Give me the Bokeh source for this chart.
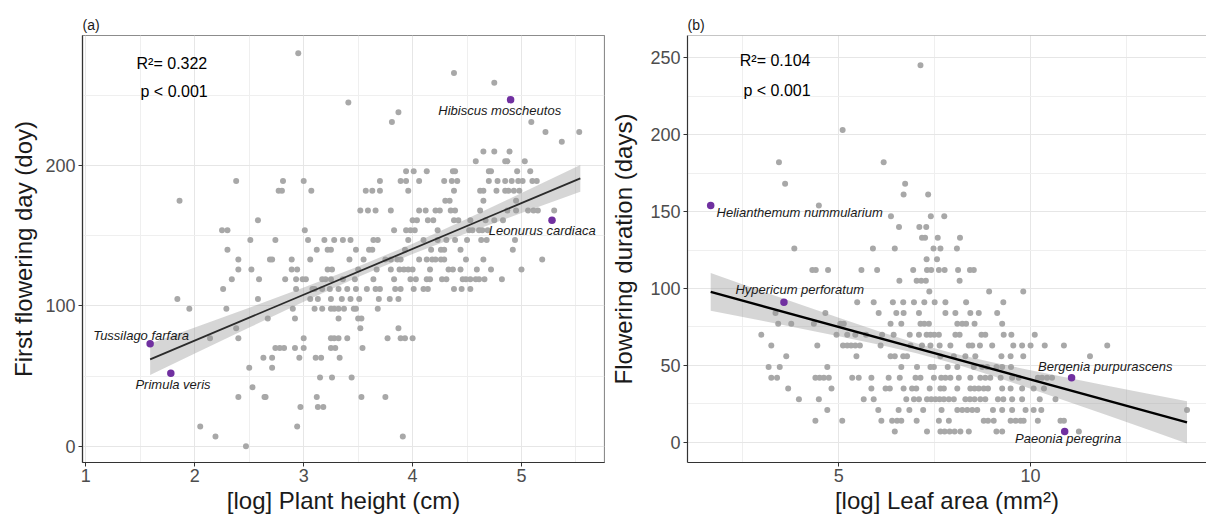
from bokeh.plotting import figure
from bokeh.layouts import row
from bokeh.models import Label, Span, FixedTicker, Range1d
from bokeh.embed import file_html
from bokeh.resources import INLINE
import numpy as np

# ---------------- Panel (a): first flowering day vs log plant height ----------------
# rows of points: (first flowering day, [log plant height values])
a_rows = [
    (280, [2.95]),
    (266, [4.38]),
    (259, [4.75]),
    (245, [3.41]),
    (238, [3.87]),
    (231, [3.81, 5.09]),
    (224, [5.22, 5.53]),
    (217, [5.37]),
    (210, [4.65, 4.75, 4.89]),
    (203, [4.58, 4.85, 4.87, 5.03]),
    (196, [3.94, 4.01, 4.13, 4.37, 4.39, 4.70, 4.72, 4.96, 5.08]),
    (189, [2.38, 2.81, 3.00, 3.70, 3.89, 3.94, 4.06, 4.29, 4.36, 4.41, 4.70, 4.78, 4.85, 4.91, 4.97, 5.01, 5.10, 5.14]),
    (182, [2.77, 2.80, 3.07, 3.57, 3.63, 3.70, 3.96, 4.38, 4.62, 4.65, 4.77, 4.85, 4.88, 4.93, 4.98]),
    (175, [1.86, 4.30, 4.34, 4.65, 4.95]),
    (168, [3.52, 3.59, 3.66, 3.80, 4.06, 4.12, 4.21, 4.25, 4.35, 4.39, 4.62, 4.87, 4.95, 5.06, 5.11, 5.15, 5.30]),
    (161, [2.58, 4.00, 4.04, 4.14, 4.19, 4.38, 4.42, 4.53, 4.67, 4.75, 4.83]),
    (154, [2.25, 2.30, 3.01, 3.83, 3.94, 3.98, 4.02, 4.23, 4.52, 4.55, 4.61, 4.64, 4.69]),
    (147, [2.51, 2.74, 3.04, 3.19, 3.28, 3.36, 3.43, 3.64, 3.68, 3.96, 4.10, 4.23, 4.31, 4.39, 4.50, 4.63, 4.68, 4.94]),
    (140, [2.30, 3.12, 3.22, 3.25, 3.48, 3.60, 3.63, 3.93, 4.17, 4.26, 4.29, 4.44, 4.92]),
    (133, [2.40, 2.69, 2.71, 2.89, 3.06, 3.42, 3.55, 3.75, 3.80, 3.86, 3.89, 4.06, 4.13, 4.18, 4.21, 4.26, 4.29, 4.49, 4.65, 5.19]),
    (126, [2.40, 2.52, 2.89, 2.94, 3.22, 3.26, 3.50, 3.67, 3.80, 3.88, 3.92, 3.96, 4.00, 4.16, 4.33, 4.37, 4.44, 4.59, 4.72, 5.00]),
    (119, [2.34, 2.59, 2.83, 2.93, 2.99, 3.02, 3.17, 3.20, 3.25, 3.36, 3.47, 3.64, 3.83, 3.98, 4.03, 4.13, 4.16, 4.27, 4.31, 4.46, 4.49, 4.53, 4.58, 4.61, 4.66, 4.82]),
    (112, [2.26, 2.93, 3.08, 3.10, 3.17, 3.24, 3.32, 3.40, 3.48, 3.58, 3.66, 3.70, 3.84, 3.89, 4.01, 4.10, 4.14, 4.38, 4.45, 4.53]),
    (105, [1.84, 2.58, 3.06, 3.13, 3.25, 3.35, 3.43, 3.51, 3.69, 3.79, 3.87]),
    (98, [1.95, 2.29, 2.90, 3.10, 3.17, 3.25, 3.28, 3.32, 3.37, 3.46, 3.48, 3.68]),
    (91, [2.67, 2.92, 3.32, 3.50, 3.53]),
    (84, [2.38, 3.52, 3.87]),
    (77, [2.14, 2.40, 3.00, 3.25, 3.28, 3.32, 3.40, 3.77, 3.89, 3.93, 4.00]),
    (70, [2.74, 2.78, 2.82, 2.92, 3.00, 3.25, 3.29, 3.54]),
    (63, [2.63, 2.71, 2.96, 3.11, 3.16, 3.33]),
    (56, [2.50, 2.71]),
    (49, [3.15, 3.26, 3.44]),
    (42, [2.53]),
    (35, [2.40, 2.64, 2.65, 3.12, 3.53, 3.75]),
    (28, [2.97, 3.13, 3.18]),
    (14, [2.05, 2.94]),
    (7, [2.19, 3.91]),
    (0, [2.47]),
]
a_x = [x for d, xs in a_rows for x in xs]
a_y = [d for d, xs in a_rows for x in xs]

a_hl_names = ["Hibiscus moscheutos", "Leonurus cardiaca", "Tussilago farfara", "Primula veris"]
a_hl_x = [4.90, 5.28, 1.59, 1.78]
a_hl_y = [247, 161, 73, 52]

a_fit_x = [1.59, 5.54]
a_intercept, a_slope = 10.0, 32.66
a_band_x = [1.59, 2.0, 2.5, 3.0, 3.5, 4.0, 4.5, 5.0, 5.54]
a_band_half = [11.2, 9.3, 7.1, 5.1, 3.7, 3.7, 5.1, 7.1, 9.5]
a_stats = ["R\u00b2= 0.322", "p < 0.001"]

# ---------------- Panel (b): flowering duration vs log leaf area ----------------
b_rows = [
    (245, [7.13]),
    (203, [5.10]),
    (182, [3.44, 6.17]),
    (168, [3.60, 6.73]),
    (161, [6.69, 7.33]),
    (154, [4.48]),
    (147, [6.36, 7.40, 7.75]),
    (140, [6.57, 7.10, 7.28]),
    (133, [7.17, 7.25, 7.58, 8.16]),
    (126, [3.84, 5.89, 6.46, 7.47, 7.65, 8.08]),
    (119, [7.29, 7.56]),
    (112, [4.31, 4.40, 4.72, 5.59, 6.00, 6.94, 7.30, 7.41, 7.61, 7.76, 8.11, 8.42, 8.52]),
    (105, [6.58, 7.03, 7.15, 7.27, 8.15]),
    (98, [7.36, 8.92, 9.81]),
    (91, [5.48, 5.91, 6.41, 6.68, 6.96, 7.23, 7.50, 7.78, 8.32, 9.29]),
    (84, [3.35, 4.65, 6.04, 6.50, 6.69, 7.09, 7.78, 8.04, 8.43, 8.65, 9.13]),
    (77, [3.42, 3.76, 4.35, 5.04, 5.13, 6.35, 6.63, 7.13, 7.23, 7.35, 8.09, 8.22, 8.32, 8.54, 9.26]),
    (70, [2.98, 4.94, 5.22, 5.43, 5.71, 6.13, 6.43, 6.85, 7.09, 7.29, 7.39, 7.49, 7.61, 8.04, 8.15, 8.72, 8.82, 9.30, 9.50, 10.11]),
    (63, [3.24, 4.44, 5.11, 5.22, 5.32, 5.43, 5.55, 6.09, 6.87, 7.17, 7.39, 7.63, 7.91, 8.39, 8.48, 8.68, 9.00, 9.55, 9.78, 10.00, 10.37, 10.87, 12.00]),
    (56, [3.63, 5.46, 6.35, 6.46, 6.68, 6.78, 7.65, 8.00, 8.30, 8.56, 9.24, 9.48, 9.81, 11.55]),
    (49, [3.17, 3.46, 4.70, 6.63, 7.04, 7.39, 7.48, 7.84, 8.09, 8.52, 8.74, 8.87, 9.11, 9.26, 9.49]),
    (42, [3.24, 3.39, 4.39, 4.50, 4.61, 4.74, 5.35, 5.52, 5.85, 6.30, 6.59, 7.00, 7.13, 7.48, 7.67, 7.78, 7.91, 8.13, 8.43, 8.69, 8.82, 8.95, 9.22, 9.52, 9.69, 10.19, 10.30, 10.43, 10.56]),
    (35, [3.68, 4.81, 5.85, 6.22, 6.33, 6.69, 6.91, 7.02, 7.37, 7.65, 7.74, 8.09, 8.43, 8.54, 8.65, 8.78, 8.89, 9.26, 9.48, 9.78, 10.08, 10.35]),
    (28, [3.96, 4.48, 5.65, 5.91, 6.76, 6.96, 7.09, 7.30, 7.41, 7.52, 7.63, 7.74, 7.87, 8.00, 8.30, 8.42, 8.54, 8.69, 8.82, 9.15, 9.29, 9.52, 9.78, 10.24, 10.65]),
    (21, [4.70, 6.03, 6.56, 6.84, 7.20, 7.68, 8.09, 8.22, 8.35, 8.48, 8.61, 9.02, 9.26, 9.52, 9.87, 10.08, 10.28, 14.08]),
    (14, [4.39, 5.09, 6.11, 6.39, 6.52, 6.63, 7.03, 7.61, 7.87, 8.78, 8.89, 9.04, 9.48, 9.61, 9.74, 9.82, 10.19, 10.78, 10.87]),
    (7, [6.46, 7.30, 7.65, 7.76, 7.89, 8.02, 8.17, 8.39, 9.11, 9.26, 11.26]),
]
b_x = [x for d, xs in b_rows for x in xs]
b_y = [d for d, xs in b_rows for x in xs]

b_hl_names = ["Helianthemum nummularium", "Hypericum perforatum", "Bergenia purpurascens", "Paeonia peregrina"]
b_hl_x = [1.66, 3.57, 11.07, 10.89]
b_hl_y = [154, 91, 42, 7]

b_fit_x = [1.66, 14.08]
b_intercept, b_slope = 109.1, -6.825
b_band_x = [1.66, 3, 4, 5, 6, 7, 8, 9, 10, 11, 12, 13, 14.08]
b_band_half = [12.3, 9.6, 7.8, 6.0, 4.4, 3.3, 3.3, 4.4, 6.0, 7.8, 9.6, 11.6, 13.7]
b_stats = ["R\u00b2= 0.104", "p < 0.001"]

FONT = "Liberation Sans"
GRAY_PT = "#a8a8a8"
PURPLE = "#7030a0"


def base_fig(width, xr, yr, xt, xmt, yt, ymt, xlab, ylab, title, ylab_standoff, min_left, min_right):
    p = figure(width=width, height=516, x_range=Range1d(*xr), y_range=Range1d(*yr),
               output_backend="svg", toolbar_location=None, tools="",
               min_border_left=min_left, min_border_right=min_right,
               min_border_top=35, min_border_bottom=53)
    p.background_fill_color = "white"
    p.border_fill_color = "white"
    p.title.text = title
    p.title.align = "left"
    p.title.text_font = FONT
    p.title.text_font_size = "14px"
    p.title.text_font_style = "normal"
    p.title.text_color = "#1a1a1a"
    p.title.standoff = 6
    p.xaxis.ticker = FixedTicker(ticks=xt, minor_ticks=xmt)
    p.yaxis.ticker = FixedTicker(ticks=yt, minor_ticks=ymt)
    for ax in (p.xaxis, p.yaxis):
        ax.axis_line_color = "#333333"
        ax.axis_line_width = 1.2
        ax.major_tick_line_color = "#333333"
        ax.major_tick_in = 0
        ax.major_tick_out = 4
        ax.minor_tick_line_color = None
        ax.major_label_text_font = FONT
        ax.major_label_text_font_size = "18px"
        ax.major_label_text_color = "#4d4d4d"
        ax.axis_label_text_font = FONT
        ax.axis_label_text_font_size = "24px"
        ax.axis_label_text_font_style = "normal"
        ax.axis_label_text_color = "#1a1a1a"
    p.xaxis.axis_label = xlab
    p.yaxis.axis_label = ylab
    p.xaxis.major_label_standoff = 2
    p.xaxis.axis_label_standoff = 2
    p.yaxis.major_label_standoff = 3
    p.yaxis.axis_label_standoff = ylab_standoff
    for g in (p.xgrid, p.ygrid):
        g.grid_line_color = "#e6e6e6"
        g.grid_line_width = 1
        g.minor_grid_line_color = "#efefef"
        g.minor_grid_line_width = 1
    return p


def add_content(p, xs, ys, fit_x, b0, b1, band_x, band_half, hl_x, hl_y, line_color, line_width):
    p.scatter(xs, ys, size=6, fill_color=GRAY_PT, line_color=None)
    bx = np.array(band_x)
    center = b0 + b1 * bx
    hw = np.array(band_half)
    p.varea(x=bx, y1=center - hw, y2=center + hw, fill_color="#999999", fill_alpha=0.4)
    fx = np.array(fit_x)
    p.line(fx, b0 + b1 * fx, line_color=line_color, line_width=line_width)
    p.scatter(hl_x, hl_y, size=7.5, fill_color=PURPLE, line_color=None)


def add_label(p, x, y, text, size="13px", style="italic", color="#1a1a1a"):
    p.add_layout(Label(x=x, y=y, text=text, text_align="center", text_baseline="middle",
                       text_font=FONT, text_font_size=size, text_font_style=style,
                       text_color=color))


# ---- Panel (a)
p1 = base_fig(605, (0.969, 5.762), (-11.6, 292.7), [1, 2, 3, 4, 5], [1.5, 2.5, 3.5, 4.5, 5.5],
              [0, 100, 200], [50, 150, 250], "[log] Plant height (cm)", "First flowering day (doy)",
              "(a)", 5, 82, 1)
p1.outline_line_color = "#8c8c8c"
p1.outline_line_width = 1.2
add_content(p1, a_x, a_y, a_fit_x, a_intercept, a_slope, a_band_x, a_band_half,
            a_hl_x, a_hl_y, "#2b2b2b", 1.8)
add_label(p1, 4.80, 239, a_hl_names[0])
add_label(p1, 5.19, 154, a_hl_names[1])
add_label(p1, 1.507, 78.6, a_hl_names[2])
add_label(p1, 1.80, 43.8, a_hl_names[3])
add_label(p1, 1.79, 272.4, a_stats[0], size="16px", style="normal", color="black")
add_label(p1, 1.81, 252.8, a_stats[1], size="16px", style="normal", color="black")

# ---- Panel (b)
p2 = base_fig(601, (1.055, 14.588), (-13.1, 264.4), [5, 10], [2.5, 7.5, 12.5],
              [0, 50, 100, 150, 200, 250], [25, 75, 125, 175, 225],
              "[log] Leaf area (mm\u00b2)", "Flowering duration (days)", "(b)", 10, 82, 0)
p2.outline_line_color = None
p2.add_layout(Span(location=264.4, dimension="width", line_color="#8c8c8c", line_width=1.2))
add_content(p2, b_x, b_y, b_fit_x, b_intercept, b_slope, b_band_x, b_band_half,
            b_hl_x, b_hl_y, "black", 2.4)
add_label(p2, 3.98, 149.4, b_hl_names[0])
add_label(p2, 3.98, 99.4, b_hl_names[1])
add_label(p2, 11.95, 49.2, b_hl_names[2])
add_label(p2, 10.98, 2.2, b_hl_names[3])
add_label(p2, 3.34, 248.3, b_stats[0], size="16px", style="normal", color="black")
add_label(p2, 3.39, 228.4, b_stats[1], size="16px", style="normal", color="black")

layout = row(p1, p2)
open("out.html", "w").write(file_html(layout, INLINE))
